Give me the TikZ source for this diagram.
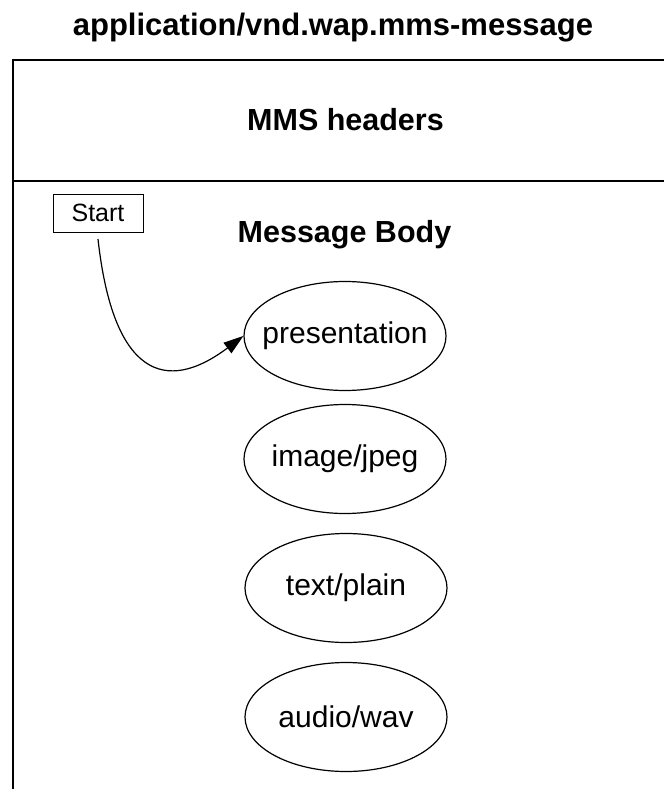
\documentclass[tikz,border=0pt]{standalone}
\usepackage{fontspec}
\setmainfont{Liberation Sans}
\usetikzlibrary{shapes.geometric,arrows.meta}
\tikzset{
  part/.style={draw=black, line width=1.2pt, ellipse, minimum width=202pt, minimum height=109pt, inner sep=0pt, font=\fontsize{30}{36}\selectfont},
  heading/.style={anchor=base, inner sep=0pt, font=\fontsize{30.5}{36}\selectfont\bfseries},
  startbox/.style={draw=black, line width=1pt, minimum width=90pt, minimum height=38pt, inner sep=0pt, font=\fontsize{25}{30}\selectfont},
  frame/.style={draw=black, line width=1.2pt},
  link/.style={draw=black, line width=1.2pt, -{Triangle[length=20pt,width=13pt]}}
}
\newcommand{\zb}[1]{\makebox[0pt]{#1}}
\begin{document}
\begin{tikzpicture}[x=1pt,y=-1pt]
\useasboundingbox (0,0) rectangle (664,789);
\node[heading, font=\fontsize{31}{36}\selectfont\bfseries] (title) at (333,36) {application/vnd.wap.mms-message};
\coordinate (tl) at (13,60);
\coordinate (tr) at (664,60);
\coordinate (bl) at (13,789);
\coordinate (ml) at (13,181);
\coordinate (mr) at (664,181);
\draw[frame] (tr) -- (tl) -- (bl);
\draw[frame] (ml) -- (mr);
\node[heading] (mms) at (345.5,130) {MMS headers};
\node[heading] (body) at (344.5,242) {Message Body};
\node[startbox] (start) at (98,213) {Start};
\node[part] (pres) at (345,336) {\zb{presentation}};
\node[part] (img) at (345,459) {\zb{image/jpeg}};
\node[part] (txt) at (346,588) {\zb{text/plain}};
\node[part] (aud) at (346,717) {\zb{audio/wav}};
\coordinate (s0) at (98,239);
\draw[link] (s0) .. controls (113,375) and (165,395) .. (pres.west);
\end{tikzpicture}
\end{document}
